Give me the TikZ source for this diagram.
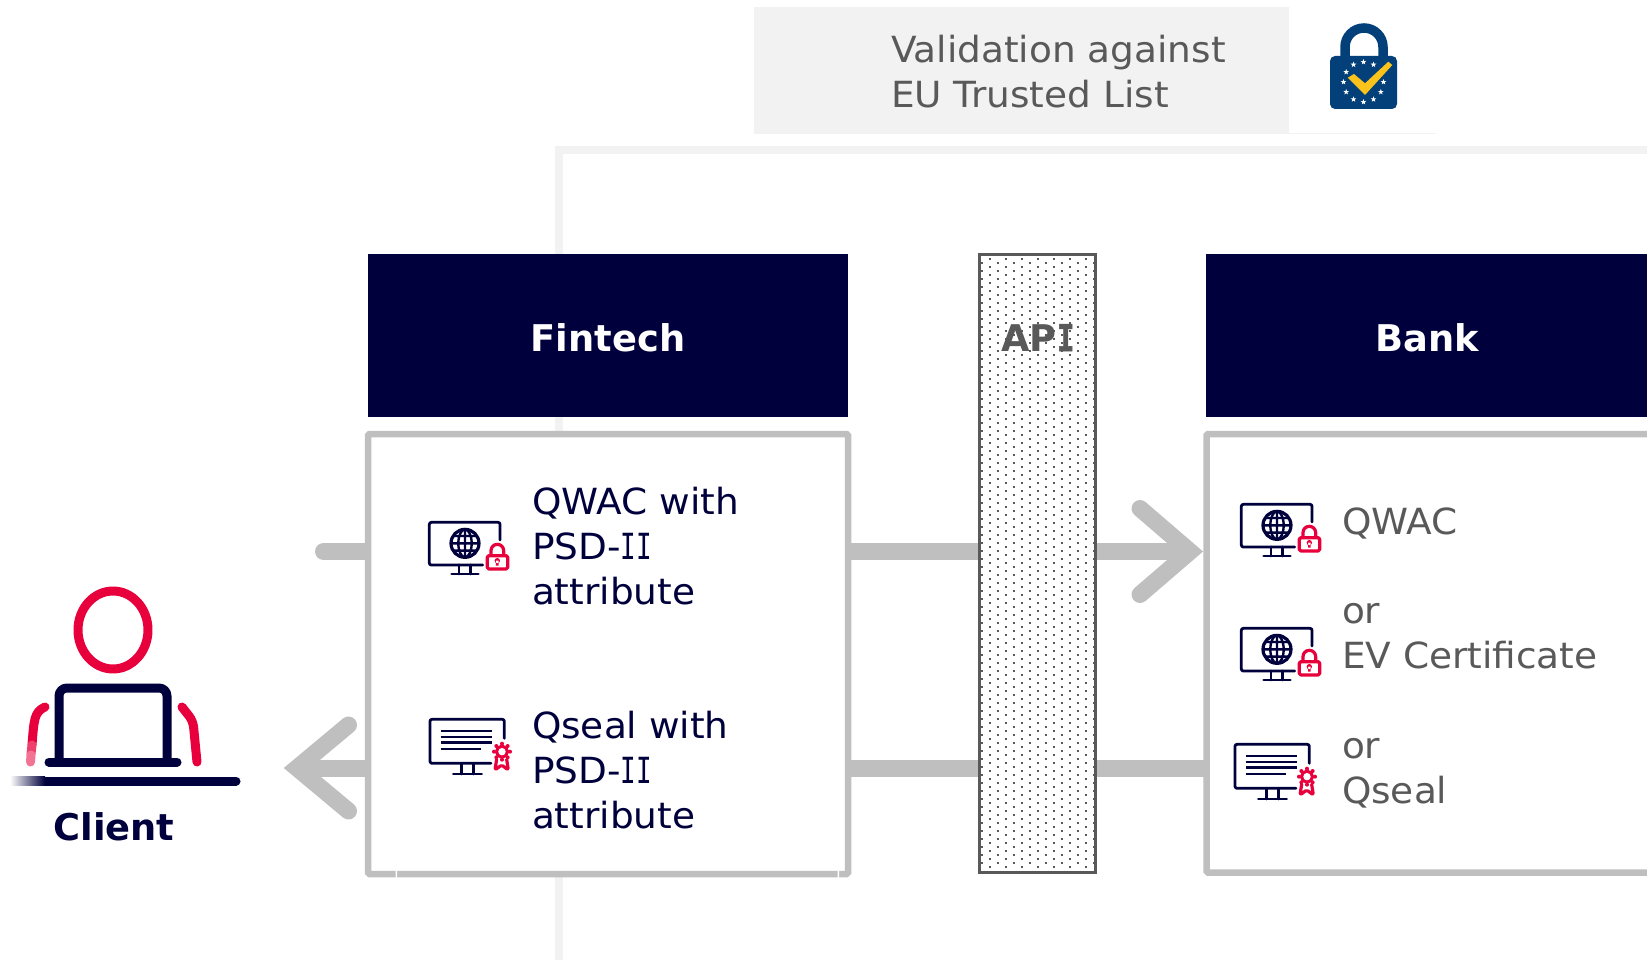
\documentclass[tikz,border=0pt]{standalone}
\usepackage{fontspec}
\setmainfont[FakeStretch=1.04,BoldFeatures={FakeStretch=1.0}]{DejaVu Sans}
\newfontfamily\monoI[FakeStretch=.72,BoldFeatures={FakeStretch=.8,FakeBold=1.5}]{DejaVu Sans Mono}
\usetikzlibrary{calc}
\definecolor{navy}{HTML}{00003C}
\definecolor{gtext}{HTML}{595959}
\definecolor{gline}{HTML}{BFBFBF}
\definecolor{lgray}{HTML}{F2F2F2}
\definecolor{redc}{HTML}{E8003D}
\definecolor{lockblue}{HTML}{03407A}
\definecolor{tick}{HTML}{F9C31B}
\newcommand{\serifI}{{\monoI I}}
\tikzset{
  hdr/.style={fill=navy,draw=none,outer sep=0pt},
  bx/.style={draw=gline,line width=6.5pt,fill=white,rounded corners=1.5pt,outer sep=0pt},
  flow/.style={draw=gline,line width=17pt,line cap=round,line join=miter},
  flowb/.style={draw=gline,line width=17pt,line cap=butt},
  big/.style={font=\fontsize{36}{45}\selectfont,anchor=base west,inner sep=0pt,outer sep=0pt},
  head/.style={font=\fontsize{36.8}{45}\selectfont\bfseries,anchor=base,inner sep=0pt,outer sep=0pt},
  ico/.style={draw=navy,line width=2.8pt,line cap=round,line join=round,rounded corners=2pt},
  icr/.style={draw=redc,line width=3.2pt,line cap=round,line join=round,rounded corners=1.5pt},
  cln/.style={draw=navy,line width=9pt,line cap=round,line join=round},
  clr/.style={draw=redc,line width=9pt,line cap=round,line join=round},
}
\newcommand{\globelock}[2]{%
\begin{scope}[shift={(#1,#2)},x=.3333pt,y=-.3333pt]
  \draw[ico] (270,120) -- (270,67) -- (58,67) -- (58,195) -- (218,195);
  \draw[ico] (147,195) -- (147,222) (182,195) -- (182,222) (125,222) -- (205,222);
  \draw[draw=navy,line width=3.2pt] (165,130) circle[radius=42];
  \draw[draw=navy,line width=2.4pt] (165,130) ellipse[x radius=20,y radius=42] (165,88) -- (165,172) (123,130) -- (207,130) (130,108) -- (200,108) (130,152) -- (200,152);
  \draw[icr] (232,167) rectangle (293,207);
  \draw[draw=redc,line width=3.2pt] (243,167) -- (243,152) arc[start angle=180,end angle=360,radius=19] -- (281,167);
  \fill[redc] (262,182) circle[radius=8] (258,182) rectangle (266,197);
\end{scope}}
\newcommand{\sealicon}[2]{%
\begin{scope}[shift={(#1,#2)},x=.3333pt,y=-.3333pt]
  \draw[ico] (283,115) -- (283,58) -- (60,58) -- (60,190) -- (243,190);
  \draw[ico] (155,190) -- (155,222) (190,190) -- (190,222) (130,222) -- (215,222);
  \draw[draw=navy,line width=2.6pt] (92,93) -- (245,93) (92,111) -- (245,111) (92,128) -- (245,128) (92,147) -- (212,147);
  \draw[draw=redc,line width=3.4pt] (276,155) circle[radius=16];
  \foreach \a in {0,45,...,315} \fill[redc] (276,155) ++(\a:24) circle[radius=6];
  \fill[white] (276,155) circle[radius=11];
  \draw[icr] (260,178) -- (255,210) -- (275,195) -- (295,210) -- (290,178);
\end{scope}}
\begin{document}
\begin{tikzpicture}[x=1pt,y=-1pt]
\useasboundingbox (0,0) rectangle (1647,960);
% outer light frame
\fill[lgray] (555,146) rectangle (1647,154);
\fill[lgray] (555,146) rectangle (563,960);
% validation
\draw[draw=lgray,line width=1pt] (754,133.5) -- (1436,133.5);
\node[fill=lgray,draw=none,anchor=north west,minimum width=535pt,minimum height=127pt,inner sep=0pt,outer sep=0pt] (val) at (754,7) {};
\node[big,text=gtext] (val1) at (891,63) {Validation against};
\node[big,text=gtext] (val2) at (891,108) {EU Trusted List};
% EU lock
\draw[draw=lockblue,line width=9.5pt] (1345,58) -- (1345,47) arc[start angle=180,end angle=360,radius=19] -- (1383,58);
\fill[lockblue,rounded corners=5pt] (1330,56) rectangle (1397,109);
\begin{scope}[shift={(1363.5,82)}]
\foreach \a in {0,30,...,330}{
  \begin{scope}[shift={(\a:20)}]
  \fill[white] (-90:3) -- (-54:1.2) -- (-18:3) -- (18:1.2) -- (54:3) -- (90:1.2) -- (126:3) -- (162:1.2) -- (198:3) -- (234:1.2) -- cycle;
  \end{scope}
}
\end{scope}
\fill[tick] (1347.7,77.7) -- (1354,74) -- (1365,83.3) -- (1388.3,61.7) -- (1392.3,65) -- (1365,95) -- cycle;
% coordinates
\coordinate (bankL1) at (1190,551.5);
\coordinate (bankL2) at (1204,768);
\coordinate (stub) at (323.5,551.5);
\coordinate (stubEnd) at (368,551.5);
\coordinate (clientTip) at (297,768);
% stub behind the box
\draw[flow] (stub) -- (stubEnd);
% headers
\node[hdr,anchor=north west,minimum width=480pt,minimum height=163pt,inner sep=0pt] (finh) at (368,254) {};
\node[hdr,anchor=north west,minimum width=441pt,minimum height=163pt,inner sep=0pt] (bankh) at (1206,254) {};
\node[head,text=white] (fint) at (608,351) {Fintech};
\node[head,text=white] (bankt) at (1427,351) {Bank};
% boxes
\node[bx,anchor=north west,minimum width=480pt,minimum height=440pt,inner sep=0pt] (finb) at (368,434) {};
\draw[bx,fill=white] (1660,434) -- (1206.5,434) -- (1206.5,872.5) -- (1660,872.5);
\fill[white] (395.5,870) rectangle (397,878) (837.5,870) rectangle (839,878);
% arrows
\draw[flowb] (finb.east |- stub) -- (978,551.5);
\draw[flowb] (1097,551.5) -- (bankL1);
\draw[flow] (1140,508.5) -- (bankL1) -- (1140,594.5);
\draw[flowb] (finb.east |- bankL2) -- (978,768);
\draw[flowb] (1097,768) -- (bankL2);
\draw[flow] (348.5,725) -- (clientTip) -- (348.5,811);
\draw[flowb] (clientTip) -- (365,768);
% API
\node[draw=gtext,line width=3pt,fill=white,anchor=north west,minimum width=116pt,minimum height=618pt,inner sep=0pt,outer sep=0pt] (api) at (979.5,254.5) {};
\begin{scope}
\clip (978,253) rectangle (1097,874);
\foreach \r in {0,...,152}{
  \pgfmathsetmacro{\yy}{259+4*\r}
  \pgfmathsetmacro{\xo}{ifthenelse(mod(\r,2)==0,990,982)}
  \foreach \c in {0,...,7}{ \fill[gtext] (\xo+16*\c-1,\yy-1) rectangle ++(2,2); }
}
\end{scope}
\node[head,text=gtext] (apit) at (1038,351) {AP\serifI};
% client
\draw[clr] (113,630) ellipse[x radius=35,y radius=39];
\draw[cln,rounded corners=8pt] (59,762) -- (59,688) -- (167,688) -- (167,762);
\draw[cln] (49,762) -- (177,762);
\draw[clr,rounded corners=6pt] (197,762) -- (193,721) -- (182,707);
\draw[clr] (32,745) .. controls (34,720) and (34,712) .. (45,707);
\draw[draw=redc!75,line width=9pt,line cap=round] (32,745) -- (31,754);
\draw[draw=redc!55,line width=9pt,line cap=round] (31,755) -- (30.5,762);
\draw[cln] (45,781) -- (236,781);
\shade[left color=white,right color=navy] (10,776.5) rectangle (45,785.5);
\node[head,text=navy] (client) at (114,840) {Client};
% icons and text
\globelock{410}{500}
\sealicon{410}{700}
\globelock{1222}{482}
\globelock{1222}{606}
\sealicon{1215}{725}
\node[big,text=navy] (a1) at (532,514) {QWAC with};
\node[big,text=navy] (a2) at (532,559) {PSD-\serifI\serifI};
\node[big,text=navy] (a3) at (532,604) {attribute};
\node[big,text=navy] (b1) at (532,738) {Qseal with};
\node[big,text=navy] (b2) at (532,783) {PSD-\serifI\serifI};
\node[big,text=navy] (b3) at (532,828) {attribute};
\node[big,text=gtext] (c1) at (1342,534) {QWAC};
\node[big,text=gtext] (c2) at (1342,623) {or};
\node[big,text=gtext] (c3) at (1342,668) {EV Certificate};
\node[big,text=gtext] (c4) at (1342,758) {or};
\node[big,text=gtext] (c5) at (1342,803) {Qseal};
\end{tikzpicture}
\end{document}
